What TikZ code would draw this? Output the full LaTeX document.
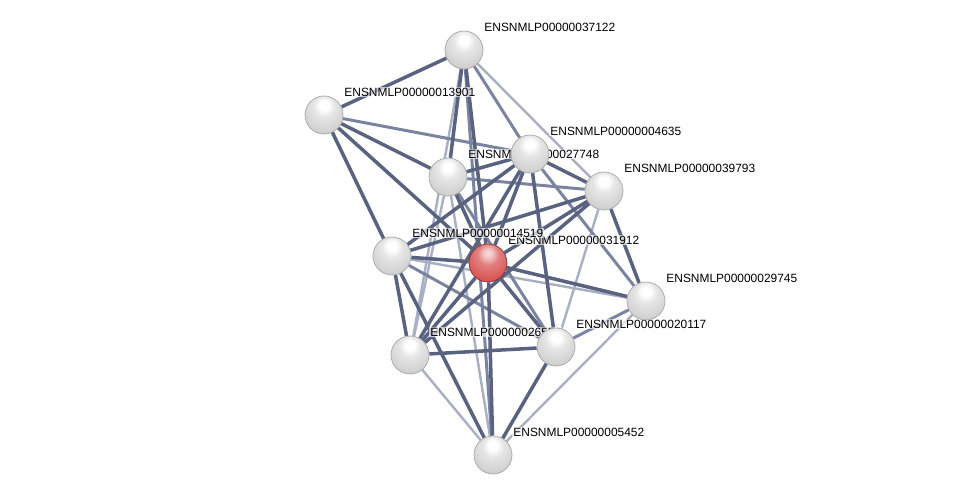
\documentclass[tikz,border=0pt]{standalone}
\usepackage{fontspec}
\setmainfont{Liberation Sans}
\usetikzlibrary{backgrounds}
\pgfdeclarelayer{edges}
\pgfdeclarelayer{labels}
\pgfsetlayers{edges,labels,main}
\definecolor{EdgeDark}{HTML}{59627F}
\definecolor{EdgeMid}{HTML}{7A83A0}
\definecolor{EdgeLight}{HTML}{AAB0C4}
\definecolor{BallRed}{HTML}{D95555}
\pgfdeclareradialshading{stringgrey}{\pgfpoint{0bp}{14bp}}{%
  color(0bp)=(white); color(6bp)=(white); color(14bp)=(black!10);
  color(30bp)=(black!18); color(42bp)=(black!35); color(52bp)=(black!50);
  color(70bp)=(black!60)}
\pgfdeclareradialshading{stringred}{\pgfpoint{0bp}{14bp}}{%
  color(0bp)=(BallRed!20!white); color(6bp)=(BallRed!35!white);
  color(14bp)=(BallRed!75!white); color(30bp)=(BallRed);
  color(42bp)=(BallRed!85!black); color(52bp)=(BallRed!70!black);
  color(70bp)=(BallRed!60!black)}

\begin{document}
\begin{tikzpicture}[
    x=0.02cm, y=-0.02cm,
    ball/.style={
      circle,
      minimum size=0.76cm,
      inner sep=0pt,
      shading=#1,
      draw=black!35,
      line width=0.4pt
    },
    lbl/.style={
      anchor=west,
      font=\fontsize{6.8}{8}\selectfont,
      fill=white,
      fill opacity=0.65,
      text opacity=1,
      inner sep=0.6pt
    },
    edark/.style={line width=2pt, color=EdgeDark},
    emid/.style={line width=1.7pt, color=EdgeMid},
    elight/.style={line width=1.4pt, color=EdgeLight}
  ]
  \useasboundingbox (0,0) rectangle (975,499);

  % Proteins
  \node[ball=stringgrey] (n37122) at (464, 50) {};
  \node[ball=stringgrey] (n13901) at (324,115) {};
  \node[ball=stringgrey] (n27748) at (448,177) {};
  \node[ball=stringgrey] (n04635) at (530,154) {};
  \node[ball=stringgrey] (n39793) at (604,191) {};
  \node[ball=stringgrey] (n14519) at (392,256) {};
  \node[ball=stringred, draw=BallRed!60!black] (n31912) at (488,263) {};
  \node[ball=stringgrey] (n29745) at (646,301) {};
  \node[ball=stringgrey] (n26551) at (410,355) {};
  \node[ball=stringgrey] (n20117) at (556,347) {};
  \node[ball=stringgrey] (n05452) at (493,455) {};

  % Labels
  \begin{pgfonlayer}{labels}
  \foreach \n in {37122,13901,04635,27748,39793,31912,14519,29745,26551,20117,05452}
    \node[lbl] (l\n) at ([shift={(19,-23)}]n\n) {ENSNMLP000000\n};
  \end{pgfonlayer}

  % Interactions
  \begin{pgfonlayer}{edges}
  \foreach \a/\b in {37122/39793,37122/26551,39793/20117,14519/29745,
                     29745/05452,26551/05452,27748/26551,27748/05452}
    \draw[elight] (n\a) -- (n\b);
  \foreach \a/\b in {37122/04635,13901/04635,37122/05452,27748/39793,
                     27748/20117,04635/29745,29745/20117,14519/20117}
    \draw[emid] (n\a) -- (n\b);
  \foreach \a/\b in {37122/13901,37122/27748,37122/31912,13901/31912,
                     13901/27748,13901/14519,04635/31912,04635/14519,
                     04635/26551,04635/20117,04635/27748,27748/31912,
                     39793/31912,39793/29745,39793/26551,14519/31912,
                     14519/26551,31912/26551,31912/20117,31912/05452,
                     31912/29745,26551/20117,20117/05452,14519/05452,
                     04635/39793,39793/14519}
    \draw[edark] (n\a) -- (n\b);
  \end{pgfonlayer}

\end{tikzpicture}
\end{document}
